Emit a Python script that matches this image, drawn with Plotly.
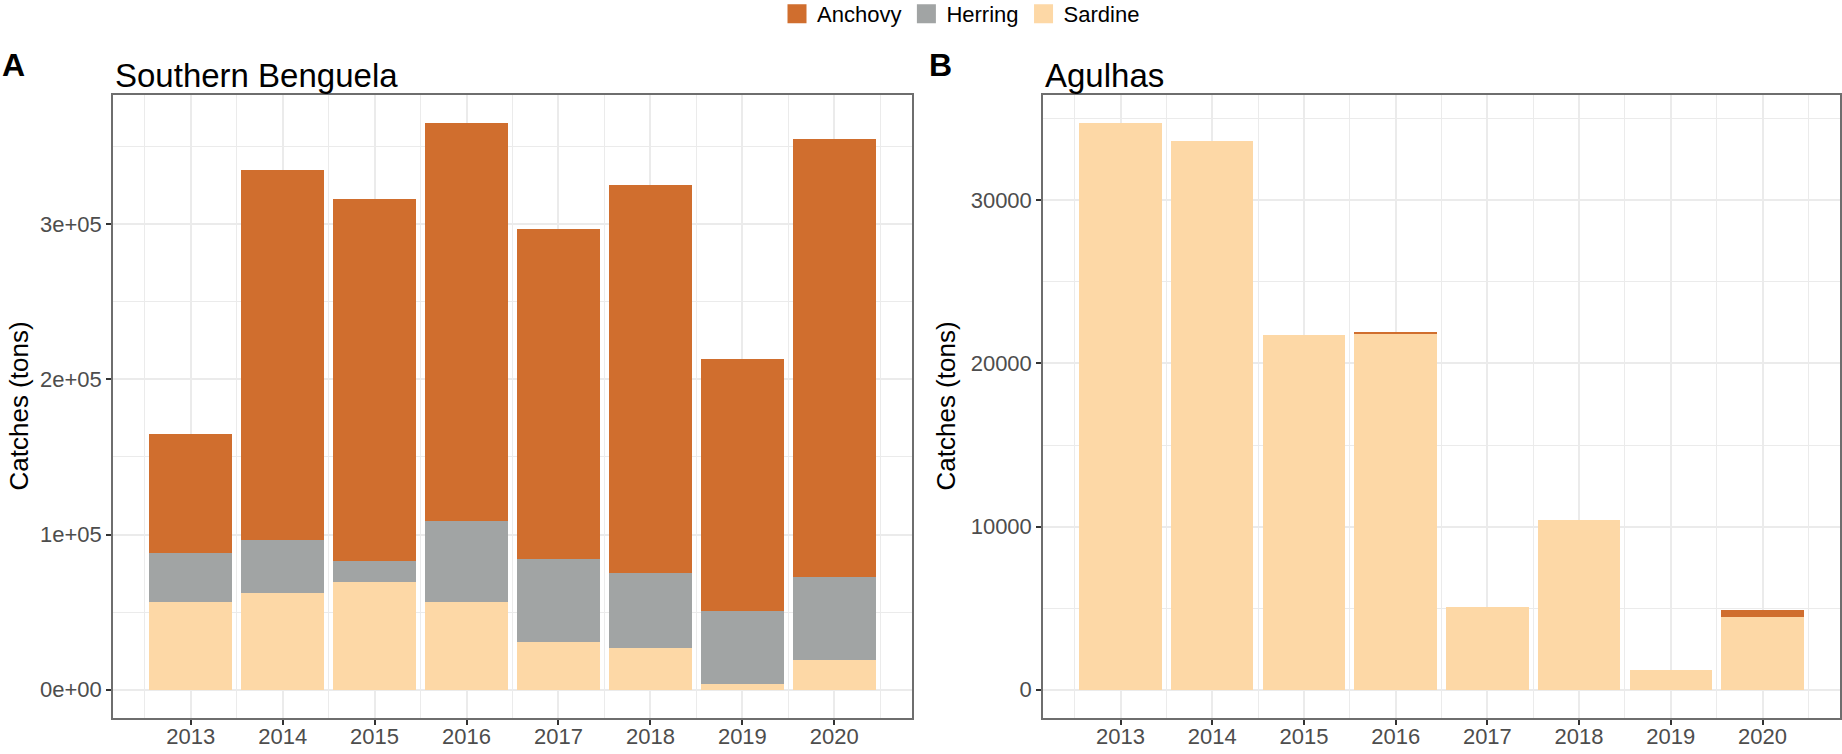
import plotly.graph_objects as go

# catches by year (tons)
years = [2013, 2014, 2015, 2016, 2017, 2018, 2019, 2020]

sb_sardine = [56700, 62000, 69700, 56500, 30900, 27000, 3900, 19300]
sb_herring = [31100, 34600, 13200, 52300, 53500, 47900, 46800, 53500]
sb_anchovy = [77000, 238400, 233100, 256200, 212600, 250100, 162300, 282200]

ag_sardine = [34720, 33660, 21720, 21820, 5060, 10410, 1200, 4470]
ag_herring = [0, 0, 0, 0, 0, 0, 0, 0]
ag_anchovy = [0, 0, 0, 120, 0, 0, 0, 410]

species = ["Anchovy", "Herring", "Sardine"]
colors = {"Anchovy": "#D06E2E", "Herring": "#A1A4A4", "Sardine": "#FDD8A6"}

sb_ticks = [0, 100000, 200000, 300000]
sb_ticktext = ["0e+00", "1e+05", "2e+05", "3e+05"]
ag_ticks = [0, 10000, 20000, 30000]
ag_ticktext = ["0", "10000", "20000", "30000"]

FONT = "Liberation Sans, Arial, sans-serif"
W, H = 1842, 754
ML, MR, MT, MB = 113, 2, 95, 36
PW = W - ML - MR
PH = H - MT - MB


def px_x(x):
    return (x - ML) / PW


def px_y(y):
    return 1 + (MT - y) / PH


def expand(lo, hi, f=0.05):
    d = (hi - lo) * f
    return [lo - d, hi + d]


fig = go.Figure()

panels = [
    ("x", "y", {"Sardine": sb_sardine, "Herring": sb_herring, "Anchovy": sb_anchovy}),
    ("x2", "y2", {"Sardine": ag_sardine, "Herring": ag_herring, "Anchovy": ag_anchovy}),
]
for xa, ya, data in panels:
    for sp in ["Sardine", "Herring", "Anchovy"]:
        fig.add_trace(go.Bar(
            x=years, y=data[sp], name=sp, width=0.9,
            marker=dict(color=colors[sp], line=dict(width=0)),
            xaxis=xa, yaxis=ya, showlegend=False,
        ))

# legend entries with larger square keys
for sp in species:
    fig.add_trace(go.Scatter(
        x=[None], y=[None], mode="markers", name=sp,
        marker=dict(symbol="square", size=16, color=colors[sp],
                    line=dict(width=3, color=colors[sp])),
        showlegend=True,
    ))

sb_total = [a + b + c for a, b, c in zip(sb_sardine, sb_herring, sb_anchovy)]
ag_total = [a + b + c for a, b, c in zip(ag_sardine, ag_herring, ag_anchovy)]
x_range = expand(min(years) - 0.45, max(years) + 0.45)

common_x = dict(
    range=x_range, tickvals=years, ticks="outside", ticklen=5, tickwidth=1.5,
    tickcolor="#333333", tickfont=dict(size=22, color="#4D4D4D", family=FONT),
    ticklabelstandoff=-7,
    showgrid=True, gridcolor="#EBEBEB", gridwidth=1.5,
    minor=dict(dtick=0.5, tick0=2012.5, showgrid=True, gridcolor="#EBEBEB", gridwidth=0.8),
    showline=True, linecolor="#6E6E6E", linewidth=1.5, mirror=True,
    zeroline=False, automargin=False,
)
common_y = dict(
    ticks="outside", ticklen=5, tickwidth=1.5, tickcolor="#333333",
    tickfont=dict(size=22, color="#4D4D4D", family=FONT),
    showgrid=True, gridcolor="#EBEBEB", gridwidth=1.5,
    showline=True, linecolor="#6E6E6E", linewidth=1.5, mirror=True,
    zeroline=False, automargin=False,
)

left_dom = [0, px_x(912)]
right_dom = [px_x(1043), 1]

fig.update_layout(
    width=W, height=H,
    margin=dict(l=ML, r=MR, t=MT, b=MB, autoexpand=False),
    paper_bgcolor="white", plot_bgcolor="white",
    barmode="stack", bargap=0,
    font=dict(family=FONT, color="black"),
    xaxis=dict(domain=left_dom, anchor="y", **common_x),
    xaxis2=dict(domain=right_dom, anchor="y2", **common_x),
    yaxis=dict(domain=[0, 1], anchor="x", range=expand(0, max(sb_total)),
               tickvals=sb_ticks, ticktext=sb_ticktext,
               minor=dict(dtick=50000, showgrid=True, gridcolor="#EBEBEB", gridwidth=0.8),
               **common_y),
    yaxis2=dict(domain=[0, 1], anchor="x2", range=expand(0, max(ag_total)),
                tickvals=ag_ticks, ticktext=ag_ticktext,
                minor=dict(dtick=5000, showgrid=True, gridcolor="#EBEBEB", gridwidth=0.8),
                **common_y),
    legend=dict(
        orientation="h", x=px_x(961), y=px_y(14), xanchor="center", yanchor="middle",
        font=dict(size=22, family=FONT), itemsizing="trace", traceorder="normal",
        bgcolor="rgba(0,0,0,0)",
    ),
)

annotations = [
    dict(text="<b>A</b>", x=px_x(13), y=px_y(65)),
    dict(text="<b>B</b>", x=px_x(940), y=px_y(65)),
]
for a in annotations:
    a.update(xref="paper", yref="paper", showarrow=False, xanchor="center",
             yanchor="middle", font=dict(size=32, family=FONT, color="black"))
    fig.add_annotation(**a)

fig.add_annotation(text="Southern Benguela", x=left_dom[0], y=px_y(75), xref="paper", yref="paper",
                   xanchor="left", yanchor="middle", showarrow=False,
                   font=dict(size=33, family=FONT, color="black"))
fig.add_annotation(text="Agulhas", x=right_dom[0], y=px_y(75), xref="paper", yref="paper",
                   xanchor="left", yanchor="middle", showarrow=False,
                   font=dict(size=33, family=FONT, color="black"))

for xc in (18, 945):
    fig.add_annotation(text="Catches (tons)", x=px_x(xc), y=0.5, xref="paper", yref="paper",
                       xanchor="center", yanchor="middle", textangle=-90, showarrow=False,
                       font=dict(size=26, family=FONT, color="black"))

# drop the default page margin so the figure sits at the window corner
fig.write_html("out.html", config={"displayModeBar": False},
               post_script="document.body.style.margin='0';")
